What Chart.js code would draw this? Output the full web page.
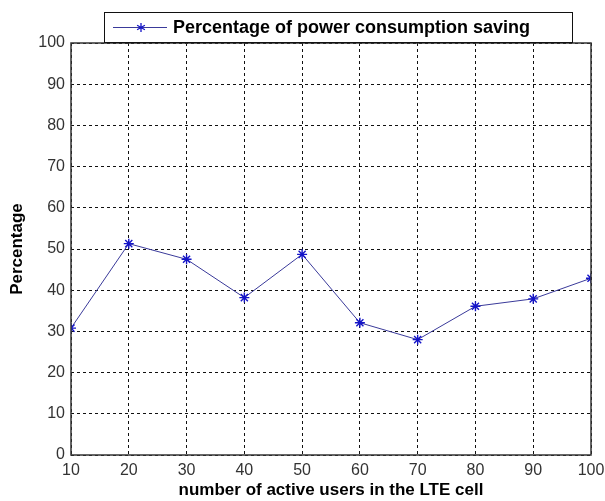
<!DOCTYPE html>
<html>
<head>
<meta charset="utf-8">
<script src="https://cdn.jsdelivr.net/npm/chart.js@4"></script>
<style>
html,body{margin:0;padding:0;background:#fff;}
#wrap{width:605px;height:501px;position:relative;}
</style>
</head>
<body>
<div id="wrap"><canvas id="c" width="605" height="501"></canvas></div>
<script>
const users = [10, 20, 30, 40, 50, 60, 70, 80, 90, 100];
const saving = [30.8, 51.3, 47.5, 38.2, 48.7, 32.1, 28.0, 36.1, 37.9, 42.9];
const seriesLabel = 'Percentage of power consumption saving';
const xTitle = 'number of active users in the LTE cell';
const yTitle = 'Percentage';

const FONT = '"Liberation Sans", Arial, sans-serif';

const legendPlugin = {
  id: 'boxLegend',
  afterDraw(chart) {
    const ctx = chart.ctx;
    const x0 = 104.5, y0 = 12.5, w = 468, h = 30;
    ctx.save();
    ctx.fillStyle = '#fff';
    ctx.fillRect(x0, y0, w, h);
    ctx.strokeStyle = '#111';
    ctx.lineWidth = 1;
    ctx.strokeRect(x0, y0, w, h);
    const ly = y0 + h / 2;
    ctx.strokeStyle = '#3a3a9a';
    ctx.beginPath();
    ctx.moveTo(113, ly); ctx.lineTo(167, ly); ctx.stroke();
    const cx = 141, r = 4.5;
    ctx.strokeStyle = '#1414c8';
    ctx.lineWidth = 1.3;
    ctx.beginPath();
    for (let i = 0; i < 3; i++) {
      const a = Math.PI / 2 + i * Math.PI / 3;
      ctx.moveTo(cx + r * Math.cos(a), ly + r * Math.sin(a));
      ctx.lineTo(cx - r * Math.cos(a), ly - r * Math.sin(a));
    }
    ctx.stroke();
    ctx.fillStyle = '#000';
    ctx.font = 'bold 18px ' + FONT;
    ctx.textBaseline = 'middle';
    ctx.textAlign = 'left';
    ctx.fillText(chart.data.datasets[0].label, 173, ly + 1);
    ctx.restore();
  }
};

new Chart(document.getElementById('c'), {
  type: 'line',
  data: {
    datasets: [{
      label: seriesLabel,
      data: users.map((u, i) => ({x: u, y: saving[i]})),
      borderColor: '#3a3a9a',
      borderWidth: 1,
      pointStyle: 'star',
      pointRadius: 5,
      pointBorderColor: '#1414c8',
      pointBorderWidth: 1.4,
      pointBackgroundColor: '#1414c8',
      tension: 0,
      fill: false
    }]
  },
  options: {
    responsive: false,
    animation: false,
    devicePixelRatio: 1,
    layout: {padding: {top: 43, right: 0, left: 7, bottom: 0}},
    plugins: {legend: {display: false}, tooltip: {enabled: false}},
    scales: {
      x: {
        type: 'linear', min: 10, max: 100,
        ticks: {stepSize: 10, color: '#333', font: {family: FONT, size: 16}, padding: 6, maxRotation: 0},
        grid: {color: '#111', lineWidth: 1, drawTicks: false, tickLength: 0},
        border: {display: false, dash: [3, 3]},
        title: {display: true, text: xTitle, color: '#000', font: {family: FONT, size: 17, weight: 'bold'}, padding: {top: 0, bottom: 0}},
        afterFit(s) { s.height = 46; s.paddingRight = 14; }
      },
      y: {
        min: 0, max: 100,
        ticks: {stepSize: 10, color: '#333', font: {family: FONT, size: 16}, padding: 6},
        grid: {color: '#111', lineWidth: 1, drawTicks: false, tickLength: 0},
        border: {display: false, dash: [3, 3]},
        title: {display: true, text: yTitle, color: '#000', font: {family: FONT, size: 17, weight: 'bold'}, padding: {top: 0, bottom: 0}},
        afterFit(s) { s.width = 64; }
      }
    }
  },
  plugins: [{
    id: 'frame',
    afterDatasetsDraw(chart) {
      const {ctx, chartArea: a} = chart;
      ctx.save();
      ctx.strokeStyle = '#333';
      ctx.lineWidth = 1.5;
      ctx.strokeRect(a.left, a.top, a.right - a.left, a.bottom - a.top);
      ctx.restore();
    }
  }, legendPlugin]
});
</script>
</body>
</html>
